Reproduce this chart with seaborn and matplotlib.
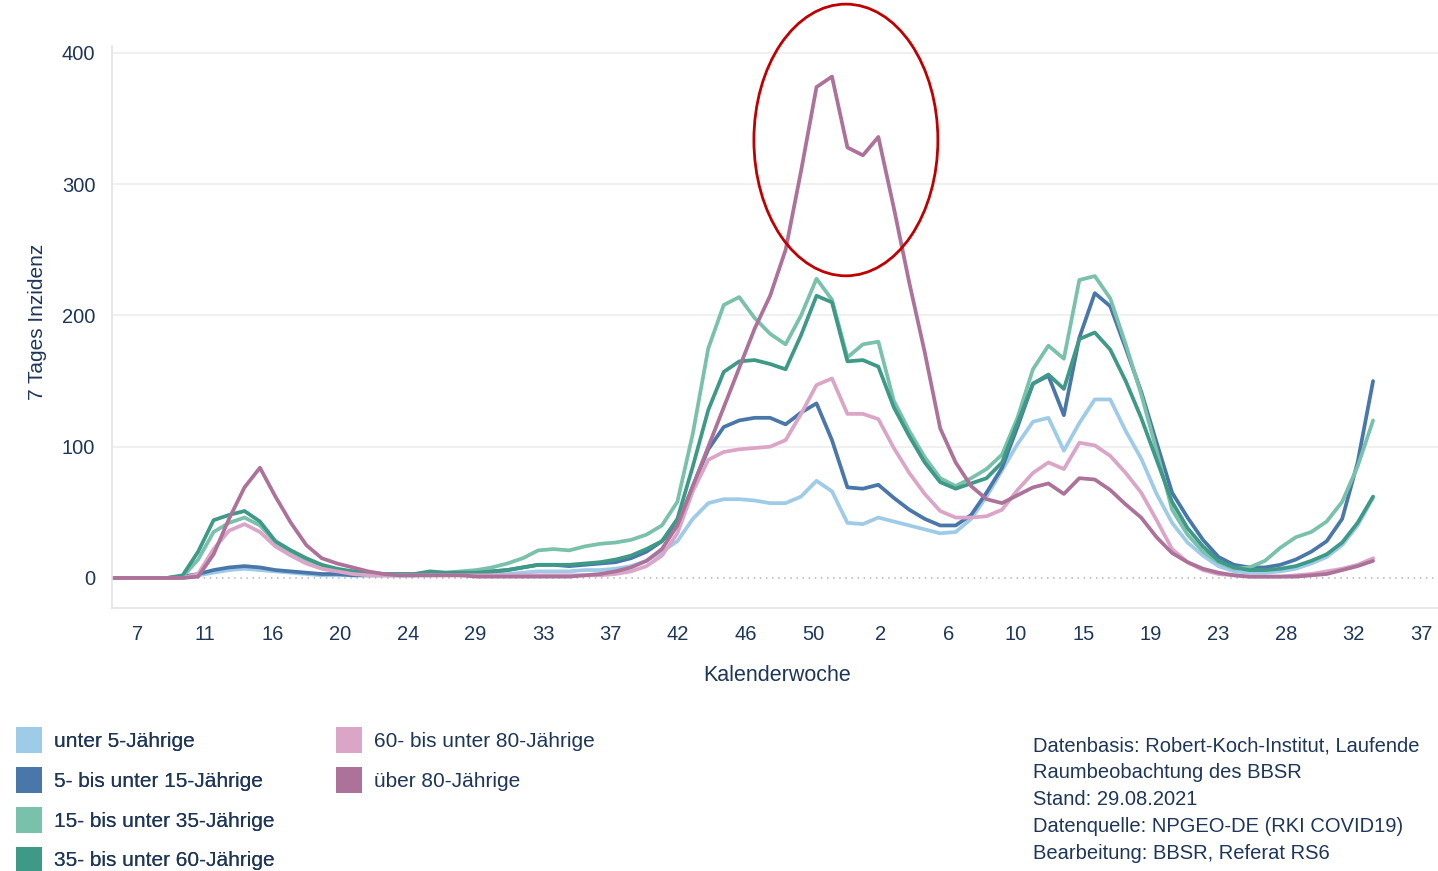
import numpy as np
import pandas as pd
import matplotlib
matplotlib.use("Agg")
import matplotlib.pyplot as plt
from matplotlib.patches import Ellipse, Patch
import seaborn as sns

# ---------------- data (sequential week index, -2 ... 80; index 0 ~ KW 7/2020) ----------------
week_index = list(range(-2, 81))

unter5 = [0, 0, 0, 0, 0, 0, 2, 4, 6, 7,
          6, 5, 4, 3, 2, 2, 2, 2, 2, 2,
          2, 2, 3, 3, 3, 3, 3, 4, 5, 5,
          5, 6, 6, 7, 9, 13, 20, 28, 45, 57,
          60, 60, 59, 57, 57, 62, 74, 66, 42, 41,
          46, 43, 40, 37, 34, 35, 45, 62, 82, 102,
          119, 122, 97, 118, 136, 136, 112, 91, 64, 42,
          27, 17, 9, 5, 4, 4, 5, 7, 11, 16,
          25, 40, 61]

j5_15 = [0, 0, 0, 0, 0, 1, 3, 6, 8, 9,
         8, 6, 5, 4, 3, 3, 2, 2, 2, 2,
         2, 3, 3, 3, 4, 5, 6, 8, 10, 10,
         9, 10, 11, 12, 15, 20, 28, 40, 70, 98,
         115, 120, 122, 122, 117, 126, 133, 105, 69, 68,
         71, 61, 52, 45, 40, 40, 48, 65, 84, 115,
         148, 154, 124, 183, 217, 207, 175, 142, 103, 65,
         46, 29, 16, 10, 8, 8, 10, 14, 20, 28,
         45, 88, 150]

j15_35 = [0, 0, 0, 0, 0, 1, 14, 35, 42, 46,
          40, 27, 20, 14, 9, 6, 5, 4, 3, 3,
          3, 4, 4, 5, 6, 8, 11, 15, 21, 22,
          21, 24, 26, 27, 29, 33, 40, 58, 110, 175,
          208, 214, 198, 186, 178, 200, 228, 212, 168, 178,
          180, 135, 112, 92, 76, 70, 76, 83, 94, 122,
          159, 177, 167, 227, 230, 213, 178, 140, 97, 52,
          33, 20, 12, 7, 8, 13, 23, 31, 35, 43,
          58, 85, 120]

j35_60 = [0, 0, 0, 0, 0, 2, 20, 44, 48, 51,
          43, 28, 21, 15, 10, 7, 5, 4, 3, 3,
          3, 5, 4, 4, 4, 5, 6, 8, 10, 10,
          10, 11, 12, 14, 17, 22, 28, 45, 85, 128,
          157, 165, 166, 163, 159, 185, 215, 210, 165, 166,
          161, 130, 108, 88, 73, 68, 72, 76, 88, 118,
          148, 155, 144, 182, 187, 174, 150, 122, 90, 58,
          38, 24, 13, 8, 6, 6, 7, 9, 13, 18,
          27, 42, 62]

j60_80 = [0, 0, 0, 0, 0, 0, 3, 22, 36, 41,
          35, 24, 17, 11, 7, 5, 3, 2, 2, 2,
          2, 2, 2, 2, 2, 2, 2, 2, 2, 2,
          2, 2, 2, 3, 5, 9, 17, 34, 66, 90,
          96, 98, 99, 100, 105, 125, 147, 152, 125, 125,
          121, 99, 80, 64, 51, 46, 46, 47, 52, 67,
          80, 88, 83, 103, 101, 93, 80, 65, 44, 22,
          12, 6, 3, 2, 1, 1, 1, 2, 3, 5,
          7, 10, 15]

ueber80 = [0, 0, 0, 0, 0, 0, 1, 18, 45, 69,
           84, 62, 42, 25, 15, 11, 8, 5, 3, 2,
           2, 2, 2, 2, 1, 1, 1, 1, 1, 1,
           1, 2, 3, 5, 8, 13, 22, 40, 70, 100,
           130, 160, 190, 215, 250, 310, 374, 382, 328, 322,
           336, 282, 225, 172, 114, 88, 70, 60, 57, 63,
           69, 72, 64, 76, 75, 67, 56, 46, 31, 19,
           12, 7, 4, 2, 1, 1, 1, 1, 2, 3,
           6, 9, 13]

groups = ["unter 5-Jährige", "5- bis unter 15-Jährige", "15- bis unter 35-Jährige",
          "35- bis unter 60-Jährige", "60- bis unter 80-Jährige", "über 80-Jährige"]
colors = ["#9ecbe7", "#4a77a9", "#79c1ab", "#3e9987", "#dba5c7", "#ad7299"]

x_tick_labels = ["7", "11", "16", "20", "24", "29", "33", "37", "42", "46",
                 "50", "2", "6", "10", "15", "19", "23", "28", "32", "37"]
y_ticks = [0, 100, 200, 300, 400]

source_lines = ["Datenbasis: Robert-Koch-Institut, Laufende",
                "Raumbeobachtung des BBSR",
                "Stand: 29.08.2021",
                "Datenquelle: NPGEO-DE (RKI COVID19)",
                "Bearbeitung: BBSR, Referat RS6"]

# ---------------- build long table ----------------
series = [unter5, j5_15, j15_35, j35_60, j60_80, ueber80]
df = pd.concat([pd.DataFrame({"idx": week_index, "wert": s, "gruppe": g})
                for s, g in zip(series, groups)], ignore_index=True)

# ---------------- style ----------------
sns.set_theme(style="white")
plt.rcParams["font.family"] = ["Liberation Sans", "DejaVu Sans"]
txt = "#1f3658"

fig = plt.figure(figsize=(14.38, 8.71), dpi=100)
ax = fig.add_axes([112 / 1438, 1 - 608 / 871, 1326 / 1438, (608 - 46) / 871])

sns.lineplot(data=df, x="idx", y="wert", hue="gruppe", hue_order=groups,
             palette=dict(zip(groups, colors)), linewidth=2.7, legend=False,
             ax=ax, sort=False, estimator=None)

ax.set_xlim(-1.57, 84.2)
ax.set_ylim(-22.9, 405.3)

for v in y_ticks[1:]:
    ax.axhline(v, color="#ececec", lw=1.1, zorder=0)
ax.axhline(0, color="#b5b5b5", lw=1.1, ls=(0, (1, 3)), zorder=0)

ax.set_xticks(np.linspace(0.1, 83.1, len(x_tick_labels)))
ax.set_xticklabels(x_tick_labels)
ax.set_yticks(y_ticks)
ax.set_yticklabels([str(v) for v in y_ticks])
ax.tick_params(axis="x", length=0, pad=12, labelsize=14.5, labelcolor=txt)
ax.tick_params(axis="y", length=0, pad=12, labelsize=14.5, labelcolor=txt)
ax.set_xlabel("")
ax.set_ylabel("")

for side in ["top", "right"]:
    ax.spines[side].set_visible(False)
for side in ["left", "bottom"]:
    ax.spines[side].set_color("#e4e4e4")
    ax.spines[side].set_linewidth(1.2)

# red ellipse highlighting the peak
ax.add_patch(Ellipse((45.9, 333.7), 11.9, 207, fill=False, ec="#c00000",
                     lw=2.0, clip_on=False, zorder=5))

fig.text(777 / 1438, 1 - 675 / 871, "Kalenderwoche", ha="center", va="center",
         fontsize=15.5, color=txt)
fig.text(38 / 1438, 1 - 322 / 871, "7 Tages Inzidenz", ha="center", va="center",
         rotation=90, fontsize=15, color=txt)

# legend (two columns: 4 + 2)
handles = [Patch(facecolor=c, edgecolor="none") for c in colors]
leg_kw = dict(frameon=False, fontsize=15, handlelength=1.25, handleheight=1.55,
              handletextpad=0.55, labelspacing=0.66, borderpad=0, borderaxespad=0,
              loc="upper left", labelcolor=txt)
l1 = fig.legend(handles[:4], groups[:4], bbox_to_anchor=(16 / 1438, 1 - 727 / 871), **leg_kw)
fig.add_artist(l1)
fig.legend(handles[4:], groups[4:], bbox_to_anchor=(336 / 1438, 1 - 727 / 871), **leg_kw)

fig.text(1033 / 1438, 1 - 736 / 871, "\n".join(source_lines), ha="left", va="top",
         fontsize=14.5, color=txt, linespacing=1.53)

fig.savefig("out.png", dpi=100)
